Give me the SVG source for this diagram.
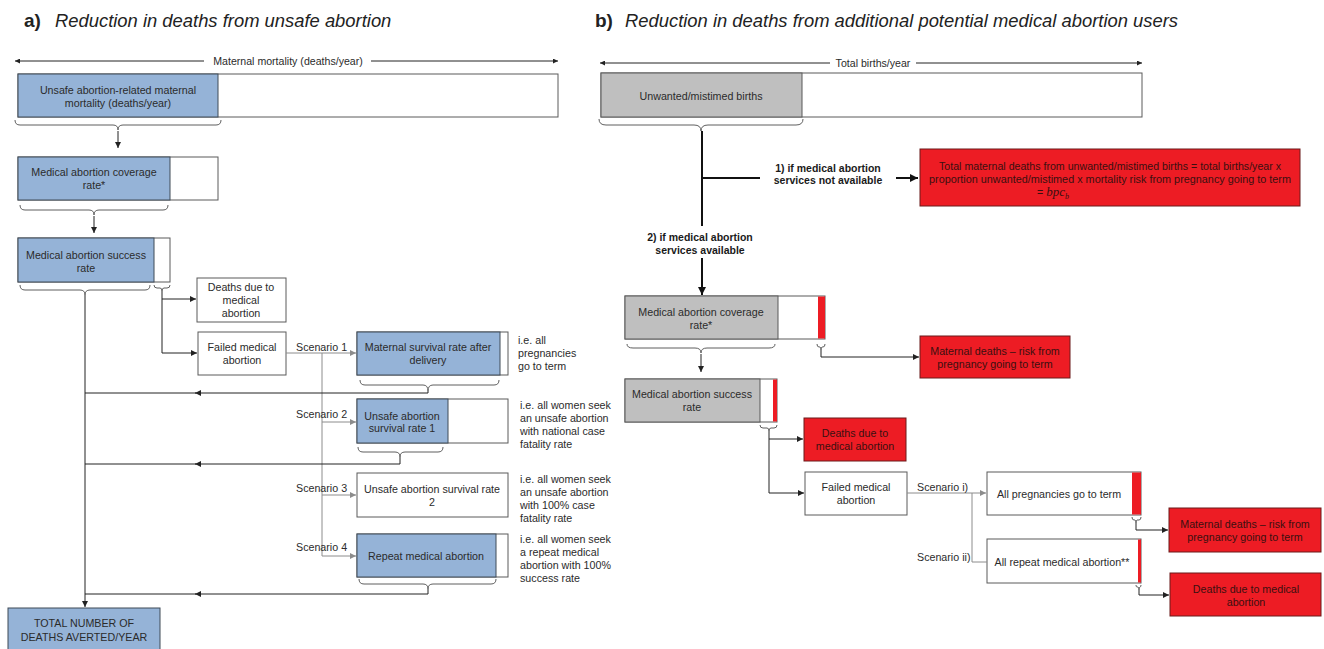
<svg xmlns="http://www.w3.org/2000/svg" width="1324" height="649" viewBox="0 0 1324 649">
<style>
text{font-family:"Liberation Sans",Arial,sans-serif;fill:#2b2b2b;font-size:10.7px}
.t{font-size:18.4px;font-style:italic;fill:#222}
.tb{font-size:19px;font-weight:bold;fill:#222}
.c{text-anchor:middle}
.s{font-size:10.6px}
.b{font-weight:bold;fill:#1a1a1a;font-size:10.5px}
.rt{fill:#3a1010}
.box{fill:#fff;stroke:#5a5a5a;stroke-width:1}
.blue{fill:#95b3d7;stroke:#3f4a57;stroke-width:1}
.grey{fill:#bfbfbf;stroke:#595959;stroke-width:1}
.red{fill:#ed1c24;stroke:#6b1a1a;stroke-width:1}
.strip{fill:#ed1c24;stroke:none}
.br{fill:none;stroke:#5f5f5f;stroke-width:1}
.ln{fill:none;stroke:#222;stroke-width:1}
.gl{fill:none;stroke:#8c8c8c;stroke-width:1}
.th{fill:none;stroke:#111;stroke-width:2}
</style>
<defs>
<marker id="a" viewBox="0 0 6 6" refX="6" refY="3" markerWidth="6" markerHeight="6" markerUnits="userSpaceOnUse" orient="auto"><path d="M0,0 L6,3 L0,6 z" fill="#222"/></marker>
<marker id="ag" viewBox="0 0 6 6" refX="6" refY="3" markerWidth="6" markerHeight="6" markerUnits="userSpaceOnUse" orient="auto"><path d="M0,0 L6,3 L0,6 z" fill="#8c8c8c"/></marker>
<marker id="at" viewBox="0 0 6 6" refX="6" refY="3" markerWidth="8" markerHeight="8" markerUnits="userSpaceOnUse" orient="auto"><path d="M0,0 L6,3 L0,6 z" fill="#111"/></marker>
<marker id="as" viewBox="0 0 6 6" refX="6" refY="3" markerWidth="5" markerHeight="5" markerUnits="userSpaceOnUse" orient="auto-start-reverse"><path d="M0,0 L6,3 L0,6 z" fill="#222"/></marker>
</defs>

<!-- titles -->
<text class="tb" x="24" y="27">a)</text>
<text class="t" x="55" y="27">Reduction in deaths from unsafe abortion</text>
<text class="tb" x="595" y="27">b)</text>
<text class="t" x="625" y="27">Reduction in deaths from additional potential medical abortion users</text>

<!-- scale arrows -->
<g id="scale-left">
<path class="ln" d="M204 61 H15" marker-end="url(#as)"/>
<path class="ln" d="M371 61 H558" marker-end="url(#as)"/>
<text class="s c" x="288" y="64.5">Maternal mortality (deaths/year)</text>
</g>
<g id="scale-right">
<path class="ln" d="M830 63 H600" marker-end="url(#as)"/>
<path class="ln" d="M916 63 H1142" marker-end="url(#as)"/>
<text class="s c" x="873" y="66.5">Total births/year</text>
</g>

<!-- LEFT nodes -->
<g id="a-unsafe-mm">
<rect class="box" x="18" y="74" width="540" height="43"/>
<rect class="blue" x="18" y="74" width="200" height="43"/>
<text class="c" x="118" y="94">Unsafe abortion-related maternal</text>
<text class="c" x="118" y="107">mortality (deaths/year)</text>
</g>
<g id="a-coverage">
<rect class="box" x="18" y="157" width="200" height="43"/>
<rect class="blue" x="18" y="157" width="152" height="43"/>
<text class="c" x="94" y="176">Medical abortion coverage</text>
<text class="c" x="94" y="189">rate*</text>
</g>
<g id="a-success">
<rect class="box" x="18" y="238" width="152" height="44"/>
<rect class="blue" x="18" y="238" width="136" height="44"/>
<text class="c" x="86" y="259">Medical abortion success</text>
<text class="c" x="86" y="272">rate</text>
</g>
<g id="a-deaths">
<rect class="box" x="197" y="278" width="89" height="44"/>
<text class="c" x="241" y="291">Deaths due to</text>
<text class="c" x="241" y="304">medical</text>
<text class="c" x="241" y="317">abortion</text>
</g>
<g id="a-failed">
<rect class="box" x="198" y="332" width="88" height="43"/>
<text class="c" x="242" y="351">Failed medical</text>
<text class="c" x="242" y="364">abortion</text>
</g>
<g id="a-maternal-survival">
<rect class="box" x="357" y="332" width="151" height="43"/>
<rect class="blue" x="357" y="332" width="143" height="43"/>
<text class="c" x="428" y="351">Maternal survival rate after</text>
<text class="c" x="428" y="364">delivery</text>
<text x="518" y="344">i.e. all</text>
<text x="518" y="357">pregnancies</text>
<text x="518" y="370">go to term</text>
</g>
<g id="a-unsafe1">
<rect class="box" x="357" y="399" width="151" height="44"/>
<rect class="blue" x="357" y="399" width="91" height="44"/>
<text class="c" x="402" y="420">Unsafe abortion</text>
<text class="c" x="402" y="432">survival rate 1</text>
<text x="520" y="409">i.e. all women seek</text>
<text x="520" y="422">an unsafe abortion</text>
<text x="520" y="435">with national case</text>
<text x="520" y="448">fatality rate</text>
</g>
<g id="a-unsafe2">
<rect class="box" x="357" y="473" width="151" height="44"/>
<text class="c" x="432" y="493">Unsafe abortion survival rate</text>
<text class="c" x="432" y="506">2</text>
<text x="520" y="483">i.e. all women seek</text>
<text x="520" y="496">an unsafe abortion</text>
<text x="520" y="509">with 100% case</text>
<text x="520" y="522">fatality rate</text>
</g>
<g id="a-repeat">
<rect class="box" x="357" y="534" width="151" height="43"/>
<rect class="blue" x="357" y="534" width="139" height="43"/>
<text class="c" x="426" y="560">Repeat medical abortion</text>
<text x="520" y="543">i.e. all women seek</text>
<text x="520" y="556">a repeat medical</text>
<text x="520" y="569">abortion with 100%</text>
<text x="520" y="582">success rate</text>
</g>
<g id="a-total">
<rect class="blue" x="8" y="608" width="152" height="52"/>
<text class="c" x="84" y="627">TOTAL NUMBER OF</text>
<text class="c" x="84" y="641">DEATHS AVERTED/YEAR</text>
</g>

<!-- RIGHT nodes -->
<g id="b-unwanted">
<rect class="box" x="601" y="73" width="541" height="44"/>
<rect class="grey" x="601" y="73" width="201" height="44"/>
<text class="c" x="701" y="100">Unwanted/mistimed births</text>
</g>
<g id="b-total-deaths">
<rect class="red" x="920" y="149" width="380" height="57"/>
<text class="c rt" x="1110" y="170" textLength="342" lengthAdjust="spacingAndGlyphs">Total maternal deaths from unwanted/mistimed births = total births/year x</text>
<text class="c rt" x="1110" y="183" textLength="362" lengthAdjust="spacingAndGlyphs">proportion unwanted/mistimed x mortality risk from pregnancy going to term</text>
<text class="rt" x="1037" y="196">= <tspan font-family="Liberation Serif,serif" font-style="italic" font-size="13">bpc</tspan><tspan font-family="Liberation Serif,serif" font-style="italic" font-size="8" dy="3">b</tspan></text>
</g>
<g id="b-coverage">
<rect class="box" x="625" y="296" width="200" height="43"/>
<rect class="grey" x="625" y="296" width="153" height="43"/>
<rect class="strip" x="818" y="296.5" width="7" height="42"/>
<text class="c" x="701" y="316">Medical abortion coverage</text>
<text class="c" x="701" y="329">rate*</text>
</g>
<g id="b-maternal1">
<rect class="red" x="920" y="336" width="150" height="42"/>
<text class="c rt" x="995" y="355">Maternal deaths – risk from</text>
<text class="c rt" x="995" y="368">pregnancy going to term</text>
</g>
<g id="b-success">
<rect class="box" x="625" y="379" width="152" height="43"/>
<rect class="grey" x="625" y="379" width="135" height="43"/>
<rect class="strip" x="773" y="379.5" width="4" height="42"/>
<text class="c" x="692" y="398">Medical abortion success</text>
<text class="c" x="692" y="411">rate</text>
</g>
<g id="b-deaths1">
<rect class="red" x="804" y="418" width="102" height="43"/>
<text class="c rt" x="855" y="437">Deaths due to</text>
<text class="c rt" x="855" y="450">medical abortion</text>
</g>
<g id="b-failed">
<rect class="box" x="805" y="472" width="102" height="43"/>
<text class="c" x="856" y="491">Failed medical</text>
<text class="c" x="856" y="504">abortion</text>
</g>
<g id="b-allterm">
<rect class="box" x="987" y="472" width="154" height="43"/>
<rect class="strip" x="1132" y="472.5" width="9" height="42"/>
<text class="c" x="1059" y="498">All pregnancies go to term</text>
</g>
<g id="b-allrepeat">
<rect class="box" x="987" y="539" width="154" height="44"/>
<rect class="strip" x="1138" y="539.5" width="3" height="43"/>
<text class="c" x="1062" y="566">All repeat medical abortion**</text>
</g>
<g id="b-maternal2">
<rect class="red" x="1169" y="508" width="152" height="44"/>
<text class="c rt" x="1245" y="528">Maternal deaths – risk from</text>
<text class="c rt" x="1245" y="541">pregnancy going to term</text>
</g>
<g id="b-deaths2">
<rect class="red" x="1170" y="573" width="151" height="43"/>
<text class="c rt" x="1246" y="593">Deaths due to medical</text>
<text class="c rt" x="1246" y="606">abortion</text>
</g>

<!-- braces -->
<g id="braces">
<path class="br" d="M15 120 Q15 125 20 125 H113 Q118 125 118 130 Q118 125 123 125 H216 Q221 125 221 120"/>
<path class="br" d="M20 205 Q20 210 25 210 H89 Q94 210 94 215 Q94 210 99 210 H163 Q168 210 168 205"/>
<path class="br" d="M20 285 Q20 290 25 290 H80 Q85 290 85 295 Q85 290 90 290 H145 Q150 290 150 285"/>
<path class="br" d="M154 285 Q154 288 157 288 H160 Q162 288 162 291 Q162 288 164 288 H167 Q170 288 170 285"/>
<path class="br" d="M360 380 Q360 385 365 385 H423 Q428 385 428 391 Q428 385 433 385 H494 Q499 385 499 380"/>
<path class="br" d="M358 447 Q358 452 363 452 H395 Q400 452 400 457 Q400 452 405 452 H438 Q443 452 443 447"/>
<path class="br" d="M359 579 Q359 584 364 584 H423 Q428 584 428 589 Q428 584 433 584 H491 Q496 584 496 579"/>
<path class="br" d="M599 119 Q599 125 606 125 H694 Q701 125 701 131 Q701 125 708 125 H796 Q803 125 803 119"/>
<path class="br" d="M627 344 Q627 348 633 348 H695 Q701 348 701 353 Q701 348 707 348 H769 Q775 348 775 344"/>
<path class="br" d="M817 344 Q817 347 819 347 H820 Q821 347 821 350 Q821 347 822 347 H823 Q825 347 825 344"/>
<path class="br" d="M760 425 Q760 428 763 428 H767 Q769 428 769 431 Q769 428 771 428 H774 Q777 428 777 425"/>
<path class="br" d="M1132 517 Q1132 520 1134 520 H1135 Q1136 520 1136 523 Q1136 520 1137 520 H1139 Q1141 520 1141 517"/>
<path class="br" d="M1136 585 Q1136 587 1137 587 H1138 Q1139 587 1139 590 Q1139 587 1140 587 H1140 Q1141 587 1141 585"/>
</g>

<!-- connectors -->
<g id="connectors">
<path class="ln" d="M118 131 V148" marker-end="url(#a)"/>
<path class="ln" d="M94 216 V233" marker-end="url(#a)"/>
<path class="ln" d="M85 295 V607" marker-end="url(#a)"/>
<path class="ln" d="M162 291 V353 H197" marker-end="url(#a)"/>
<path class="ln" d="M162 299 H196" marker-end="url(#a)"/>
<path class="gl" d="M286 353 H356" marker-end="url(#ag)"/>
<path class="gl" d="M322 353 V556 H356" marker-end="url(#ag)"/>
<path class="gl" d="M322 422 H356" marker-end="url(#ag)"/>
<path class="gl" d="M322 495 H356" marker-end="url(#ag)"/>
<path class="ln" d="M428 391 V393 H195" marker-end="url(#a)"/>
<path class="ln" d="M196 393 H85"/>
<path class="ln" d="M400 457 V464 H195" marker-end="url(#a)"/>
<path class="ln" d="M196 464 H85"/>
<path class="ln" d="M428 589 V594 H195" marker-end="url(#a)"/>
<path class="ln" d="M196 594 H85"/>

<path class="th" d="M702 131 V226"/>
<path class="th" d="M702 178 H760"/>
<path class="th" d="M896 178 H918" marker-end="url(#at)"/>
<path class="th" d="M702 258 V295" marker-end="url(#at)"/>
<path class="ln" d="M701 354 V372" marker-end="url(#a)"/>
<path class="ln" d="M821 350 V357 H919" marker-end="url(#a)"/>
<path class="ln" d="M769 431 V493 H804" marker-end="url(#a)"/>
<path class="ln" d="M769 439 H803" marker-end="url(#a)"/>
<path class="gl" d="M907 493 H986" marker-end="url(#ag)"/>
<path class="gl" d="M972 493 V562 H987"/>
<path class="ln" d="M1136 523 V530 H1168" marker-end="url(#a)"/>
<path class="ln" d="M1139 590 V595 H1169" marker-end="url(#a)"/>
</g>

<!-- connector labels -->
<g id="labels">
<text x="296" y="351">Scenario 1</text>
<text x="296" y="418">Scenario 2</text>
<text x="296" y="492">Scenario 3</text>
<text x="296" y="551">Scenario 4</text>
<text class="b c" x="828" y="172">1) if medical abortion</text>
<text class="b c" x="828" y="184">services not available</text>
<text class="b c" x="700" y="241">2) if medical abortion</text>
<text class="b c" x="700" y="254">services available</text>
<text x="917" y="491">Scenario i)</text>
<text x="917" y="561">Scenario ii)</text>
</g>
</svg>
